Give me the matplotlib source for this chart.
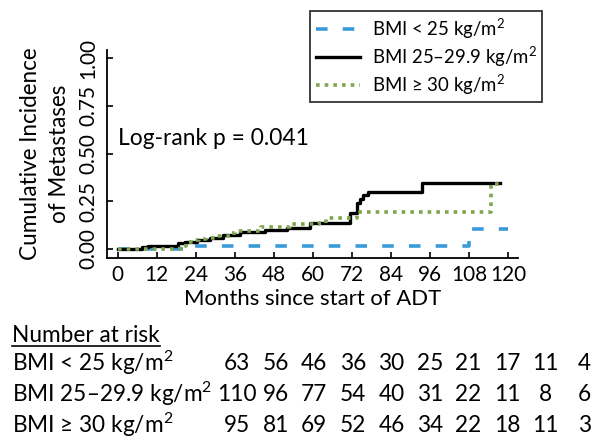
import matplotlib
matplotlib.use("Agg")
import matplotlib.pyplot as plt
from matplotlib.lines import Line2D
from matplotlib.font_manager import FontProperties

FAMILY = ['Lato', 'DejaVu Sans']
plt.rcParams['font.family'] = FAMILY
plt.rcParams['mathtext.fontset'] = 'custom'
plt.rcParams['mathtext.rm'] = 'Lato'
plt.rcParams['mathtext.default'] = 'regular'

W, H = 601, 448

# step curves (months, cumulative incidence)
t_low = [0, 22, 108, 120]
v_low = [0, 0.016, 0.104, 0.104]

t_mid = [0, 7.4, 9.3, 18.6, 20.7, 24.3, 28.4, 32.5, 37.6, 45.3, 52, 59,
         71.4, 73.5, 74.5, 75.5, 77, 93.5, 117.5]
v_mid = [0, 0.009, 0.017, 0.03, 0.038, 0.047, 0.06, 0.075, 0.087, 0.1, 0.11, 0.134,
         0.187, 0.24, 0.26, 0.283, 0.30, 0.344, 0.344]

t_high = [0, 19, 21, 23, 25, 27, 30, 34.5, 36, 44, 53, 62, 64, 73.5, 114.8, 117.5]
v_high = [0, 0.015, 0.038, 0.045, 0.052, 0.06, 0.07, 0.085, 0.096, 0.117, 0.13,
          0.138, 0.16, 0.195, 0.34, 0.34]

labels = ['BMI < 25 kg/m$^2$', 'BMI 25–29.9 kg/m$^2$', 'BMI ≥ 30 kg/m$^2$']
xticks = [0, 12, 24, 36, 48, 60, 72, 84, 96, 108, 120]
yticks = [0.00, 0.25, 0.50, 0.75, 1.00]

at_risk_low = [63, 56, 46, 36, 30, 25, 21, 17, 11, 4]
at_risk_mid = [110, 96, 77, 54, 40, 31, 22, 11, 8, 6]
at_risk_high = [95, 81, 69, 52, 46, 34, 22, 18, 11, 3]

blue = '#3a9ad9'
green = '#7fa64f'


def fx(px):
    return px / W


def fy(py):
    return 1 - py / H


fig = plt.figure(figsize=(W / 100, H / 100), dpi=100)
renderer = fig.canvas.get_renderer()


def fit(s, target_px):
    # font size (pt) giving the string the width it has in the reference
    w, _, _ = renderer.get_text_width_height_descent(
        s, FontProperties(family=FAMILY, size=10), ismath='$' in s)
    return 10 * target_px / w


fs_table = fit(labels[1], 202)
fs_tick = fit('108', 36)
fs_ylab = fit('Cumulative Incidence', 213)
fs_xlab = fit('Months since start of ADT', 258)
fs_lr = fit('Log-rank p = 0.041', 190)
fs_leg = fit(labels[1], 166)

ax = fig.add_axes([fx(107), fy(258), fx(518) - fx(107), fy(50) - fy(258)])

ax.step(t_low, v_low, where='post', color=blue, lw=2.6, dashes=(3.2, 4.2),
        label=labels[0])
ax.step(t_mid, v_mid, where='post', color='black', lw=2.4, label=labels[1])
ax.step(t_high, v_high, where='post', color=green, lw=2.6, dashes=(1, 1.4),
        label=labels[2])

ax.set_xlim(-3.3, 123.1)
ax.set_ylim(-0.047, 1.042)
ax.set_xticks(xticks)
ax.set_yticks(yticks)
ax.set_yticklabels([f'{y:.2f}' for y in yticks], rotation=90, va='center')
ax.tick_params(direction='in', length=4, width=1.2, labelsize=fs_tick)
ax.tick_params(axis='x', pad=5)
ax.tick_params(axis='y', pad=6)
for s in ['top', 'right']:
    ax.spines[s].set_visible(False)
for s in ['left', 'bottom']:
    ax.spines[s].set_linewidth(1.3)

ax.set_xlabel('Months since start of ADT', fontsize=fs_xlab, labelpad=3)
ax.set_ylabel('Cumulative Incidence\nof Metastases', fontsize=fs_ylab, linespacing=1.45)
ax.yaxis.set_label_coords(-0.09, 0.5)

ax.text(0, 0.58, 'Log-rank p = 0.041', fontsize=fs_lr, va='center', ha='left')

leg = fig.legend(loc='upper left', bbox_to_anchor=(fx(310), fy(11)),
                 fontsize=fs_leg, frameon=True, fancybox=False, handlelength=2.4,
                 handletextpad=0.6, borderpad=0.3, labelspacing=0.2,
                 borderaxespad=0)
leg.get_frame().set_edgecolor('black')
leg.get_frame().set_linewidth(1.3)

# number at risk table
tx = fig.text(fx(12), fy(335), 'Number at risk', fontsize=fs_table, va='center', ha='left')
rows_y = [363, 394, 425]
col_x = [237 + 38.6 * i for i in range(10)]
for lab, counts, ry in zip(labels, [at_risk_low, at_risk_mid, at_risk_high], rows_y):
    fig.text(fx(12), fy(ry), lab, fontsize=fs_table, va='center', ha='left')
    for cx, n in zip(col_x, counts):
        fig.text(fx(cx), fy(ry), str(n), fontsize=fs_table, va='center', ha='center')

fig.canvas.draw()
bb = tx.get_window_extent()
fig.add_artist(Line2D([bb.x0 / W, bb.x1 / W], [fy(346), fy(346)],
                      transform=fig.transFigure, color='black', lw=1.2))

fig.savefig('out.png', dpi=100)
